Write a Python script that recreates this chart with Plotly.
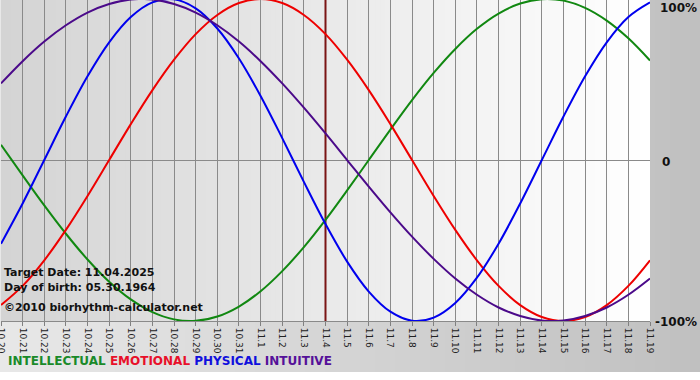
import plotly.graph_objects as go

# ---- data ----
dates = ["10.20", "10.21", "10.22", "10.23", "10.24", "10.25", "10.26", "10.27", "10.28", "10.29",
         "10.30", "10.31", "11.1", "11.2", "11.3", "11.4", "11.5", "11.6", "11.7", "11.8",
         "11.9", "11.10", "11.11", "11.12", "11.13", "11.14", "11.15", "11.16", "11.17", "11.18", "11.19"]

intellectual = [0.095, -0.095, -0.282, -0.458, -0.618, -0.756, -0.866, -0.945, -0.990, -0.999,
                -0.972, -0.910, -0.815, -0.690, -0.541, -0.372, -0.189, 0.000, 0.189, 0.372,
                0.541, 0.690, 0.815, 0.910, 0.972, 0.999, 0.990, 0.945, 0.866, 0.756, 0.618]
emotional = [-0.901, -0.782, -0.623, -0.434, -0.223, 0.000, 0.223, 0.434, 0.623, 0.782,
             0.901, 0.975, 1.000, 0.975, 0.901, 0.782, 0.623, 0.434, 0.223, 0.000,
             -0.223, -0.434, -0.623, -0.782, -0.901, -0.975, -1.000, -0.975, -0.901, -0.782, -0.623]
physical = [-0.520, -0.270, 0.000, 0.270, 0.520, 0.731, 0.888, 0.979, 0.998, 0.942,
            0.817, 0.631, 0.398, 0.136, -0.136, -0.398, -0.631, -0.817, -0.942, -0.998,
            -0.979, -0.888, -0.731, -0.520, -0.270, 0.000, 0.270, 0.520, 0.731, 0.888, 0.979]
intuitive = [0.476, 0.614, 0.736, 0.837, 0.916, 0.969, 0.997, 0.997, 0.969, 0.916,
             0.837, 0.736, 0.614, 0.476, 0.325, 0.165, 0.000, -0.165, -0.325, -0.476,
             -0.614, -0.736, -0.837, -0.916, -0.969, -0.997, -0.997, -0.969, -0.916, -0.837, -0.736]

target_label = "11.4"
info_lines = ["Target Date: 11.04.2025", "Day of birth: 05.30.1964", "\u00a92010 biorhythm-calculator.net"]
series_names = ["INTELLECTUAL", "EMOTIONAL", "PHYSICAL", "INTUITIVE"]
series_colors = ["#118811", "#ee0000", "#0000ee", "#4b0a8a"]
legend_colors = ["#1a8a2a", "#e8102a", "#1010dd", "#551199"]

x = list(range(len(dates)))
target_x = dates.index(target_label)

W, H = 700, 380
ML, MR, MT, MB = 1, 50, 0, 59
PW = W - ML - MR
PH = H - MT - MB

fig = go.Figure()


def lerp_gray(a, b, t):
    v = round(a + (b - a) * t)
    return f"rgb({v},{v},{v})"


shapes = []
# paper background gradient (light left -> gray right), white strip at bottom
n_paper = 140
x_lo, x_hi = -ML / PW, (W - ML) / PW
y_lo = -(372 - PH) / PH
for i in range(n_paper):
    t = i / (n_paper - 1)
    xa = x_lo + (x_hi - x_lo) * i / n_paper
    xb = x_lo + (x_hi - x_lo) * (i + 1.5) / n_paper
    shapes.append(dict(type="rect", xref="paper", yref="paper", x0=xa, x1=xb, y0=y_lo, y1=1.01,
                       fillcolor=lerp_gray(232, 192, t), line=dict(width=0), layer="below"))
# plot area gradient (gray left -> white right)
n_plot = 130
span = x[-1] - x[0]
for i in range(n_plot):
    t = i / (n_plot - 1)
    xa = x[0] + span * i / n_plot
    xb = x[0] + span * min(i + 1.5, n_plot) / n_plot
    shapes.append(dict(type="rect", xref="x", yref="paper", x0=xa, x1=xb, y0=0, y1=1.01,
                       fillcolor=lerp_gray(212, 255, t), line=dict(width=0), layer="below"))

fig.update_layout(shapes=shapes)

# target date line
fig.add_trace(go.Scatter(x=[target_x, target_x], y=[-1, 1.05], mode="lines",
                         line=dict(color="#7a1515", width=2), hoverinfo="skip", showlegend=False))

for name, vals, col in zip(series_names, [intellectual, emotional, physical, intuitive], series_colors):
    fig.add_trace(go.Scatter(x=x, y=vals, mode="lines", name=name,
                             line=dict(color=col, width=2, shape="spline", smoothing=1.0),
                             showlegend=False))

annotations = []
# info text
for i, txt in enumerate(info_lines):
    ypx = [272, 287, 307][i]
    annotations.append(dict(text=f"<b>{txt}</b>", xref="paper", yref="paper",
                            x=(2 - ML) / PW, y=(PH - ypx) / PH, xanchor="left", yanchor="middle",
                            showarrow=False, font=dict(family="DejaVu Sans", size=11, color="#111111")))
# right labels
for txt, ypx, xpx in [("100%", 8, 658), ("0", 162, 660), ("-100%", 322, 653)]:
    annotations.append(dict(text=f"<b>{txt}</b>", xref="paper", yref="paper",
                            x=(xpx - ML) / PW, y=(PH - ypx) / PH, xanchor="left", yanchor="middle",
                            showarrow=False, font=dict(family="DejaVu Sans", size=12, color="#111111")))
# legend row
legend_html = " ".join(f"<span style='color:{c}'>{n}</span>" for n, c in zip(series_names, legend_colors))
annotations.append(dict(text=f"<b>{legend_html}</b>", xref="paper", yref="paper",
                        x=(6 - ML) / PW, y=(PH - 361) / PH, xanchor="left", yanchor="middle",
                        showarrow=False, font=dict(family="DejaVu Sans", size=12)))

fig.update_layout(
    width=W, height=H,
    margin=dict(l=ML, r=MR, t=MT, b=MB, pad=0, autoexpand=False),
    paper_bgcolor="white",
    plot_bgcolor="rgba(0,0,0,0)",
    annotations=annotations,
    xaxis=dict(range=[x[0], x[-1]], tickmode="array", tickvals=x, ticktext=dates,
               tickangle=90, ticks="outside", ticklen=4, tickcolor="#808080",
               showgrid=True, gridcolor="#8a8a8a", gridwidth=1,
               showline=True, linecolor="#8a8a8a", linewidth=1, mirror=False,
               zeroline=False, tickfont=dict(family="DejaVu Sans", size=9, color="#222222"),
               automargin=False, ticklabeloverflow="allow", fixedrange=True),
    yaxis=dict(range=[-1, 0.994], showticklabels=False, showgrid=False,
               zeroline=True, zerolinecolor="#8a8a8a", zerolinewidth=1,
               ticks="", automargin=False, fixedrange=True),
)

fig.write_html("out.html", config={"displayModeBar": False},
               post_script="document.body.style.margin='0';document.body.style.overflow='hidden';")
